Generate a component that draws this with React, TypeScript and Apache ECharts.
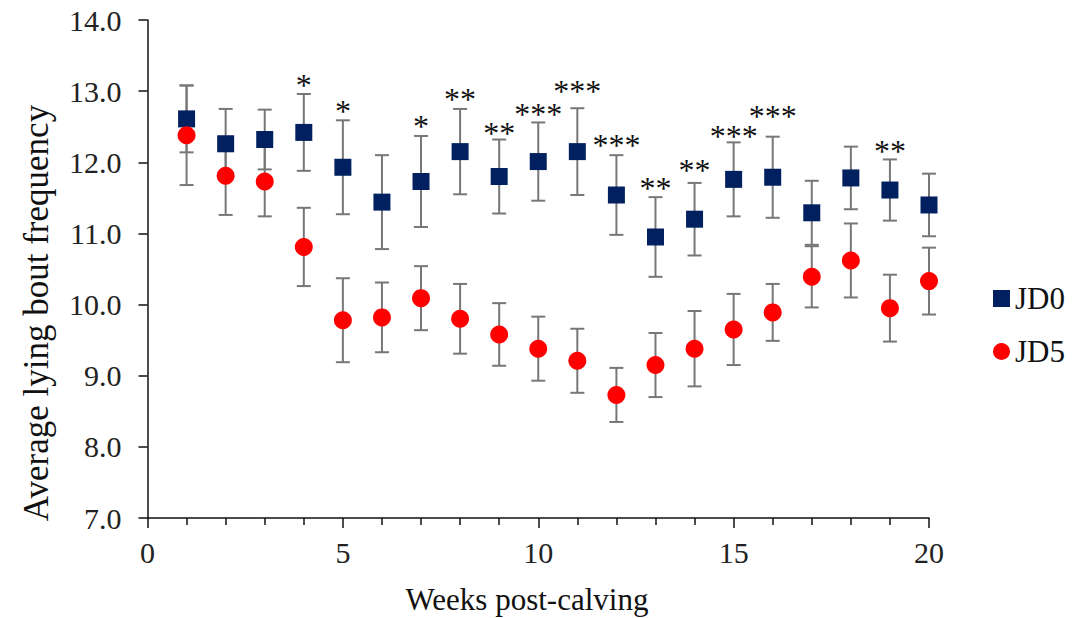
import React, { useEffect, useRef } from "react";
import * as echarts from "echarts";

const weeks = [1, 2, 3, 4, 5, 6, 7, 8, 9, 10, 11, 12, 13, 14, 15, 16, 17, 18, 19, 20];
const jd0Mean = [12.61, 12.26, 12.32, 12.42, 11.93, 11.44, 11.73, 12.15, 11.80, 12.01, 12.15, 11.54, 10.95, 11.20, 11.76, 11.79, 11.29, 11.78, 11.61, 11.40];
const jd0Err = [0.47, 0.49, 0.42, 0.54, 0.66, 0.66, 0.64, 0.60, 0.52, 0.55, 0.61, 0.56, 0.56, 0.51, 0.52, 0.57, 0.45, 0.44, 0.43, 0.44];
const jd5Mean = [12.38, 11.81, 11.73, 10.81, 9.78, 9.82, 10.09, 9.80, 9.58, 9.38, 9.21, 8.73, 9.15, 9.38, 9.65, 9.89, 10.39, 10.62, 9.95, 10.33];
const jd5Err = [0.70, 0.55, 0.49, 0.55, 0.59, 0.49, 0.45, 0.49, 0.44, 0.45, 0.45, 0.38, 0.45, 0.53, 0.50, 0.40, 0.43, 0.52, 0.47, 0.47];
const sigLabels = ["", "", "", "*", "*", "", "*", "**", "**", "***", "***", "***", "**", "**", "***", "***", "", "", "**", ""];
const sigY = [0, 0, 0, 13.17, 12.80, 0, 12.60, 12.97, 12.49, 12.77, 13.09, 12.33, 11.72, 11.97, 12.46, 12.73, 0, 0, 12.24, 0];
const yTicks = [7, 8, 9, 10, 11, 12, 13, 14];
const xTicks = [0, 5, 10, 15, 20];
const seriesNames = ["JD0", "JD5"];

const SERIF = "Liberation Serif";

function errorBarSeries(mean: number[], err: number[]) {
  const data = weeks.map((w, i) => [w, mean[i] - err[i], mean[i] + err[i]]);
  return {
    type: "custom",
    silent: true,
    z: 1,
    data,
    encode: { x: 0, y: [1, 2] },
    renderItem: (params: any, api: any) => {
      const x = api.value(0);
      const lo = api.coord([x, api.value(1)]);
      const hi = api.coord([x, api.value(2)]);
      const hw = 7;
      const style = { stroke: "#777777", lineWidth: 2, fill: "none" };
      return {
        type: "group",
        children: [
          { type: "line", shape: { x1: lo[0], y1: lo[1], x2: hi[0], y2: hi[1] }, style },
          { type: "line", shape: { x1: hi[0] - hw, y1: hi[1], x2: hi[0] + hw, y2: hi[1] }, style },
          { type: "line", shape: { x1: lo[0] - hw, y1: lo[1], x2: lo[0] + hw, y2: lo[1] }, style },
        ],
      };
    },
  };
}

export default function App() {
  const ref = useRef<HTMLDivElement>(null);
  useEffect(() => {
    if (!ref.current) return;
    const chart = echarts.init(ref.current, null, { renderer: "svg" });
    const sigData = weeks
      .map((w, i) => [w, sigY[i], i])
      .filter((d) => sigLabels[d[2] as number] !== "");
    chart.setOption({
      animation: false,
      backgroundColor: "#ffffff",
      grid: { left: 147.5, right: 148, top: 20, bottom: 100, containLabel: false },
      legend: {
        data: seriesNames,
        orient: "vertical",
        left: 988,
        top: 278,
        itemWidth: 17,
        itemHeight: 17,
        itemGap: 22,
        selectedMode: false,
        textStyle: { fontFamily: SERIF, fontSize: 31, color: "#111", padding: [0, 0, 0, 0] },
      },
      xAxis: {
        type: "value",
        min: xTicks[0],
        max: xTicks[xTicks.length - 1],
        interval: 5,
        axisLine: { show: true, lineStyle: { color: "#111", width: 1.5 } },
        axisTick: { show: true, inside: false, length: 10, lineStyle: { color: "#111", width: 1.5 } },
        minorTick: { show: true, splitNumber: 5, length: 7, lineStyle: { color: "#111", width: 1.5 } },
        splitLine: { show: false },
        minorSplitLine: { show: false },
        axisLabel: { fontFamily: SERIF, fontSize: 30, color: "#222", margin: 19 },
      },
      yAxis: {
        type: "value",
        min: yTicks[0],
        max: yTicks[yTicks.length - 1],
        interval: 1,
        axisLine: { show: true, lineStyle: { color: "#111", width: 1.5 } },
        axisTick: { show: true, inside: false, length: 9, lineStyle: { color: "#111", width: 1.5 } },
        splitLine: { show: false },
        axisLabel: {
          fontFamily: SERIF,
          fontSize: 30,
          color: "#222",
          margin: 26,
          formatter: (v: number) => v.toFixed(1),
        },
      },
      graphic: [
        {
          type: "text",
          x: 527,
          y: 599,
          style: {
            text: "Weeks post-calving",
            fontFamily: SERIF,
            fontSize: 31,
            fill: "#111",
            textAlign: "center",
            textVerticalAlign: "middle",
          },
        },
        {
          type: "text",
          x: 36,
          y: 313,
          rotation: Math.PI / 2,
          style: {
            text: "Average lying bout frequency",
            fontFamily: SERIF,
            fontSize: 35,
            fill: "#111",
            textAlign: "center",
            textVerticalAlign: "middle",
          },
        },
      ],
      series: [
        errorBarSeries(jd0Mean, jd0Err),
        errorBarSeries(jd5Mean, jd5Err),
        {
          name: seriesNames[0],
          type: "scatter",
          symbol: "rect",
          symbolSize: 17,
          z: 3,
          itemStyle: { color: "#002060", opacity: 1 },
          data: weeks.map((w, i) => [w, jd0Mean[i]]),
        },
        {
          name: seriesNames[1],
          type: "scatter",
          symbol: "circle",
          symbolSize: 18,
          z: 4,
          itemStyle: { color: "#ff0000", opacity: 1 },
          data: weeks.map((w, i) => [w, jd5Mean[i]]),
        },
        {
          type: "custom",
          silent: true,
          z: 5,
          data: sigData,
          renderItem: (params: any, api: any) => {
            const p = api.coord([api.value(0), api.value(1)]);
            const idx = api.value(2);
            return {
              type: "text",
              x: p[0],
              y: p[1] + 6,
              style: {
                text: sigLabels[idx],
                fontFamily: SERIF,
                fontSize: 32,
                fill: "#111",
                textAlign: "center",
                textVerticalAlign: "middle",
              },
            };
          },
        },
      ],
    });
    return () => chart.dispose();
  }, []);
  return (
    <div
      ref={ref}
      style={{ position: "absolute", left: 0, top: 0, width: 1077, height: 618 }}
    />
  );
}
